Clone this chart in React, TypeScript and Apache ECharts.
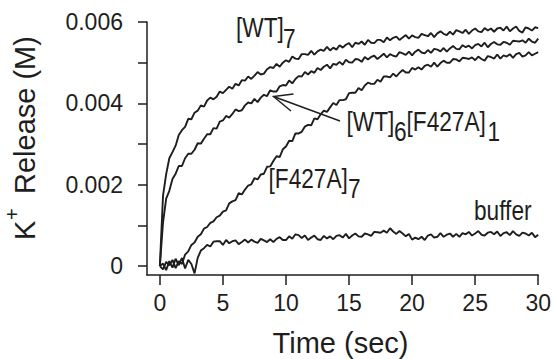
import React, { useEffect, useRef } from "react";
import * as echarts from "echarts";

// time in seconds
const TIME = [
  0, 0.25, 0.5, 0.75, 1, 1.25, 1.5, 1.75, 2, 2.25, 2.5, 2.75, 3, 3.25, 3.5, 3.75, 4, 4.25, 4.5, 4.75,
  5, 5.25, 5.5, 5.75, 6, 6.25, 6.5, 6.75, 7, 7.25, 7.5, 7.75, 8, 8.25, 8.5, 8.75, 9, 9.25, 9.5, 9.75,
  10, 10.25, 10.5, 10.75, 11, 11.25, 11.5, 11.75, 12, 12.25, 12.5, 12.75, 13, 13.25, 13.5, 13.75, 14, 14.25, 14.5, 14.75,
  15, 15.25, 15.5, 15.75, 16, 16.25, 16.5, 16.75, 17, 17.25, 17.5, 17.75, 18, 18.25, 18.5, 18.75, 19, 19.25, 19.5, 19.75,
  20, 20.25, 20.5, 20.75, 21, 21.25, 21.5, 21.75, 22, 22.25, 22.5, 22.75, 23, 23.25, 23.5, 23.75, 24, 24.25, 24.5, 24.75,
  25, 25.25, 25.5, 25.75, 26, 26.25, 26.5, 26.75, 27, 27.25, 27.5, 27.75, 28, 28.25, 28.5, 28.75, 29, 29.25, 29.5, 29.75,
  30,
];

// K+ release (M)
const WT7 = [
  0, 0.00173, 0.00226, 0.00265, 0.0028, 0.00296, 0.00322, 0.00334, 0.00342, 0.00362,
  0.00361, 0.00377, 0.00382, 0.00395, 0.00392, 0.00407, 0.00414, 0.0041, 0.00416, 0.00429,
  0.00425, 0.00433, 0.00441, 0.00436, 0.00448, 0.00444, 0.00457, 0.00456, 0.00466, 0.0046,
  0.00468, 0.00477, 0.00471, 0.00473, 0.00484, 0.00489, 0.00487, 0.00497, 0.0049, 0.005,
  0.00506, 0.00502, 0.00515, 0.0051, 0.00509, 0.00521, 0.00521, 0.00519, 0.00529, 0.0052,
  0.00528, 0.00532, 0.00529, 0.00539, 0.0053, 0.00537, 0.00532, 0.00543, 0.00537, 0.00544,
  0.00548, 0.00538, 0.00549, 0.00546, 0.00552, 0.00544, 0.00556, 0.00549, 0.00548, 0.00556,
  0.00556, 0.0055, 0.00562, 0.00555, 0.00561, 0.00564, 0.00556, 0.00562, 0.00568, 0.00559,
  0.00567, 0.00563, 0.00561, 0.00571, 0.00568, 0.00565, 0.00573, 0.00563, 0.00572, 0.00577,
  0.00571, 0.00568, 0.00576, 0.00569, 0.0058, 0.00577, 0.00573, 0.00581, 0.00571, 0.00579,
  0.00584, 0.00577, 0.00575, 0.00585, 0.00579, 0.00584, 0.00576, 0.00584, 0.00586, 0.00579,
  0.00589, 0.00577, 0.00584, 0.00589, 0.00578, 0.00574, 0.00587, 0.00584, 0.00579, 0.00587,
  0.00585,
];

const WT6_F427A1 = [
  0, 0.00107, 0.00166, 0.00185, 0.00214, 0.00227, 0.00246, 0.00246, 0.00265, 0.00276,
  0.00276, 0.00286, 0.00302, 0.00301, 0.00313, 0.00324, 0.00324, 0.00339, 0.00338, 0.00355,
  0.00358, 0.00369, 0.00365, 0.00374, 0.00385, 0.00381, 0.00383, 0.00395, 0.00402, 0.004,
  0.00411, 0.00403, 0.00414, 0.00421, 0.00418, 0.00432, 0.00429, 0.00429, 0.00442, 0.00445,
  0.00444, 0.00456, 0.00449, 0.0046, 0.00467, 0.00466, 0.00477, 0.00471, 0.00479, 0.00475,
  0.00487, 0.00482, 0.0049, 0.00495, 0.00486, 0.00497, 0.00495, 0.00502, 0.00495, 0.00507,
  0.00501, 0.005, 0.00509, 0.00508, 0.00502, 0.00514, 0.00508, 0.00514, 0.00517, 0.00509,
  0.00515, 0.00522, 0.00513, 0.00521, 0.00517, 0.00515, 0.00526, 0.00523, 0.00519, 0.00527,
  0.00518, 0.00527, 0.00532, 0.00525, 0.00523, 0.00531, 0.00524, 0.00534, 0.00532, 0.00528,
  0.00536, 0.00527, 0.00535, 0.00541, 0.00534, 0.00533, 0.00543, 0.00538, 0.00542, 0.00535,
  0.00543, 0.00546, 0.0054, 0.00549, 0.00538, 0.00546, 0.00551, 0.00545, 0.00544, 0.00551,
  0.00549, 0.00544, 0.00554, 0.00553, 0.00552, 0.00555, 0.00549, 0.00559, 0.00552, 0.00549,
  0.00559,
];

const F427A7 = [
  0, -0.00008, 0.0001, 0.00002, 0.00015, -0.00005, 0.00012, 0.00005, 0.00028, 0.00036,
  0.00052, 0.00058, 0.00072, 0.00078, 0.00092, 0.00096, 0.00106, 0.0011, 0.0012, 0.00124,
  0.00134, 0.00137, 0.00154, 0.00159, 0.00162, 0.00179, 0.00176, 0.00188, 0.00198, 0.00201,
  0.00216, 0.00213, 0.00225, 0.00227, 0.00244, 0.00245, 0.00258, 0.0027, 0.00268, 0.00287,
  0.00294, 0.00308, 0.00307, 0.00326, 0.00326, 0.0033, 0.00343, 0.00347, 0.00346, 0.00363,
  0.00361, 0.00373, 0.00382, 0.00379, 0.0039, 0.00401, 0.00396, 0.00408, 0.00408, 0.0041,
  0.00425, 0.00426, 0.00426, 0.00438, 0.00432, 0.00444, 0.00451, 0.00448, 0.00448, 0.00458,
  0.00453, 0.00466, 0.00466, 0.00464, 0.00473, 0.00466, 0.00475, 0.00482, 0.00476, 0.00476,
  0.00487, 0.00483, 0.00489, 0.00483, 0.00492, 0.00495, 0.0049, 0.005, 0.0049, 0.00499,
  0.00505, 0.005, 0.005, 0.00509, 0.00508, 0.00503, 0.00512, 0.00511, 0.00509, 0.00513,
  0.00506, 0.00515, 0.00509, 0.00505, 0.00516, 0.00514, 0.0051, 0.0052, 0.0051, 0.00518,
  0.00515, 0.00521, 0.00512, 0.00521, 0.00524, 0.00515, 0.00518, 0.00526, 0.00518, 0.00522,
  0.00526,
];

const BUFFER = [
  0, 0.00006, -0.0001, 0.00012, -0.00004, 0.00018, 0.00002, 0.0002, -0.00006, 0.00015,
  0.00005, -0.00018, 0.0002, 0.00038, 0.00044, 0.00052, 0.00048, 0.0006, 0.00061, 0.00061,
  0.00052, 0.00064, 0.00056, 0.00061, 0.00063, 0.00054, 0.00059, 0.00065, 0.00058, 0.00065,
  0.0006, 0.00057, 0.00067, 0.00063, 0.00059, 0.00066, 0.00059, 0.00067, 0.00071, 0.00064,
  0.00064, 0.00073, 0.00067, 0.00078, 0.00076, 0.00069, 0.00075, 0.00064, 0.0007, 0.00075,
  0.00066, 0.00064, 0.00074, 0.00068, 0.00073, 0.00066, 0.00074, 0.00076, 0.0007, 0.00079,
  0.00068, 0.00075, 0.0008, 0.00073, 0.00072, 0.0008, 0.00078, 0.00074, 0.00084, 0.00083,
  0.00082, 0.00087, 0.00082, 0.00093, 0.00085, 0.00079, 0.00086, 0.0008, 0.00073, 0.00079,
  0.00065, 0.0007, 0.00066, 0.00072, 0.00064, 0.00075, 0.00078, 0.0007, 0.00072, 0.00081,
  0.00072, 0.00077, 0.0008, 0.00072, 0.00079, 0.00072, 0.00081, 0.00078, 0.00084, 0.00075,
  0.0008, 0.00086, 0.00077, 0.00075, 0.00082, 0.00084, 0.00078, 0.00085, 0.00074, 0.00081,
  0.00083, 0.00076, 0.00086, 0.00078, 0.00074, 0.00082, 0.0008, 0.00075, 0.00082, 0.00071,
  0.00077,
];

const SERIES_NAMES = ["[WT]7", "[WT]6[F427A]1", "[F427A]7", "buffer"];
const SERIES_VALUES = [WT7, WT6_F427A1, F427A7, BUFFER];

const X_TICKS = [0, 5, 10, 15, 20, 25, 30];
const Y_TICKS = [0, 0.001, 0.002, 0.003, 0.004, 0.005, 0.006];
const Y_LABELS = [0, 0.002, 0.004, 0.006];

const FONT = "'Liberation Sans', Arial, Helvetica, sans-serif";
const INK = "#1e1e1e";

export default function App() {
  const ref = useRef<HTMLDivElement>(null);

  useEffect(() => {
    const chart = echarts.init(ref.current!, null, { renderer: "svg" });

    const annFont = 27;
    const annScale = 0.84;
    const ann = (x: number, baseline: number, text: string) => ({
      type: "text",
      x,
      y: baseline - annFont * 0.35,
      scaleX: annScale,
      style: {
        text,
        fontSize: annFont,
        fontFamily: FONT,
        fill: INK,
        align: "left",
        verticalAlign: "middle",
      },
    });

    const option: any = {
      animation: false,
      backgroundColor: "#ffffff",
      textStyle: { fontFamily: FONT },
      grid: { left: 147, right: 12, top: 22, bottom: 84, containLabel: false },
      xAxis: {
        type: "value",
        min: -1.02,
        max: 30,
        axisLine: { show: true, onZero: false, lineStyle: { color: INK, width: 1.5 } },
        axisTick: {
          show: true,
          length: 10,
          customValues: X_TICKS,
          lineStyle: { color: INK, width: 1.5 },
        },
        axisLabel: {
          customValues: X_TICKS,
          fontSize: 23,
          color: INK,
          margin: 16,
          fontFamily: FONT,
        },
        splitLine: { show: false },
      },
      yAxis: {
        type: "value",
        min: -0.00022,
        max: 0.006,
        axisLine: { show: true, onZero: false, lineStyle: { color: INK, width: 1.5 } },
        axisTick: {
          show: true,
          length: 9,
          customValues: Y_TICKS,
          lineStyle: { color: INK, width: 1.5 },
        },
        axisLabel: {
          customValues: Y_LABELS,
          fontSize: 23,
          color: INK,
          margin: 24,
          fontFamily: FONT,
          formatter: (v: number) => (v === 0 ? "0" : v.toFixed(3)),
        },
        splitLine: { show: false },
      },
      series: SERIES_NAMES.map((name, k) => ({
        name,
        type: "line",
        showSymbol: false,
        symbol: "none",
        smooth: false,
        lineStyle: { color: INK, width: 1.9 },
        data: TIME.map((t, i) => [t, SERIES_VALUES[k][i]]),
      })),
      graphic: [
        // curve labels
        ann(236, 36.5, "[WT]"),
        ann(283, 47.5, "7"),
        ann(346.5, 130.5, "[WT]"),
        ann(394, 140.5, "6"),
        ann(406.5, 130.5, "[F427A]"),
        ann(487.5, 140.5, "1"),
        ann(268.5, 188, "[F427A]"),
        ann(348, 198, "7"),
        ann(474, 220, "buffer"),
        // arrow
        {
          type: "line",
          shape: { x1: 340, y1: 121, x2: 273.5, y2: 96.5 },
          style: { stroke: INK, lineWidth: 1.4 },
        },
        {
          type: "polyline",
          shape: { points: [[293.5, 94], [273.5, 96.5], [291, 111]] },
          style: { stroke: INK, lineWidth: 1.4, fill: "none" },
        },
        // x axis title
        {
          type: "text",
          x: 340.5,
          y: 343,
          style: {
            text: "Time (sec)",
            fontSize: 29,
            fontFamily: FONT,
            fill: INK,
            align: "center",
            verticalAlign: "middle",
          },
        },
        // y axis title (rotated)
        {
          type: "group",
          x: 25,
          y: 240,
          rotation: Math.PI / 2,
          children: [
            {
              type: "text",
              x: 0,
              y: 0,
              style: {
                text: "K",
                fontSize: 29,
                fontFamily: FONT,
                fill: INK,
                align: "left",
                verticalAlign: "middle",
              },
            },
            {
              type: "text",
              x: 20,
              y: -13,
              style: {
                text: "+",
                fontSize: 20,
                fontFamily: FONT,
                fill: INK,
                align: "left",
                verticalAlign: "middle",
              },
            },
            {
              type: "text",
              x: 46,
              y: 0,
              style: {
                text: "Release (M)",
                fontSize: 29,
                fontFamily: FONT,
                fill: INK,
                align: "left",
                verticalAlign: "middle",
              },
            },
          ],
        },
      ],
    };

    chart.setOption(option);
    return () => chart.dispose();
  }, []);

  return (
    <div
      ref={ref}
      style={{
        position: "fixed",
        left: 0,
        top: 0,
        width: 554,
        height: 359,
        background: "#fff",
      }}
    />
  );
}
